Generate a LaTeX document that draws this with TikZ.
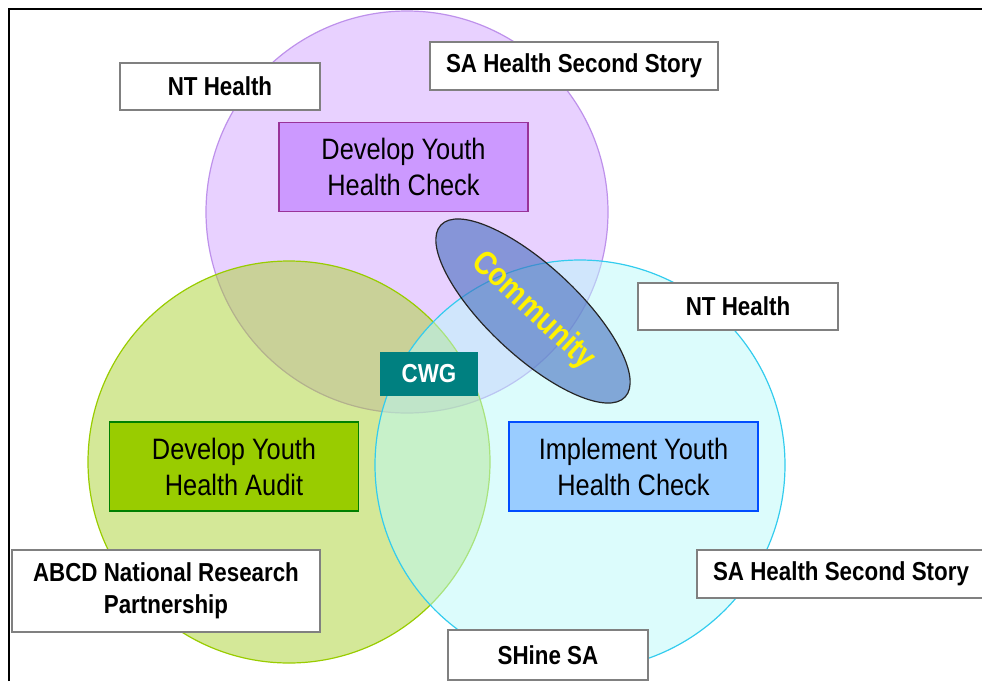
\documentclass[tikz,border=0pt]{standalone}
\usepackage{fontspec}
\setmainfont{Liberation Sans}[FakeStretch=0.86]
\usetikzlibrary{shapes.geometric}

\definecolor{lilac}{RGB}{204,153,255}
\definecolor{lilacedge}{RGB}{190,145,235}
\definecolor{plum}{RGB}{153,51,153}
\definecolor{lime}{RGB}{170,210,50}
\definecolor{limeedge}{RGB}{153,204,0}
\definecolor{aqua}{RGB}{185,250,250}
\definecolor{aquaedge}{RGB}{51,204,238}
\definecolor{sky}{RGB}{153,204,255}
\definecolor{commfill}{RGB}{70,110,190}
\definecolor{cwgteal}{RGB}{0,128,128}

\begin{document}
\begin{tikzpicture}[x=1pt, y=-1pt,
    ring/.style={circle, line width=1.2pt, minimum size=402pt, inner sep=0pt},
    org/.style={rectangle, draw=gray, line width=1.5pt, fill=white, align=center, inner sep=0pt,
      font=\bfseries\fontsize{26}{32}\selectfont},
    task/.style={rectangle, line width=1.5pt, align=center, inner sep=0pt,
      minimum width=249pt, minimum height=89pt, font=\fontsize{29.5}{36}\selectfont}]
  \useasboundingbox (0,0) rectangle (982,681);
  \draw[line width=2pt] (9,681) -- (9,9) -- (982,9);

  % three overlapping circles
  \node[ring, draw=lilacedge, fill=lilac, fill opacity=0.45] (devring) at (407,212) {};
  \node[ring, draw=limeedge, fill=lime, fill opacity=0.5] (auditring) at (289,462) {};
  \node[ring, draw=aquaedge, fill=aqua, fill opacity=0.5, minimum size=410pt] (implring) at (580,465) {};

  \node[ellipse, rotate=-43, draw=black!85, line width=1.2pt, fill=commfill, fill opacity=0.6,
    text opacity=1, minimum width=252pt, minimum height=90pt, text=yellow,
    font=\bfseries\fontsize{33}{36}\selectfont] (comm) at (533,311) {Community};

  \node[task, draw=plum, fill=lilac] (check) at (403.5,167) {Develop Youth\\Health Check};
  \node[task, draw=green!50!black, fill=limeedge] (audit) at (234,466.5) {Develop Youth\\Health Audit};
  \node[task, draw=blue!70!cyan, fill=sky] (impl) at (633.5,466.5) {Implement Youth\\Health Check};

  \node[rectangle, fill=cwgteal, text=white, minimum width=98pt, minimum height=44pt,
    font=\bfseries\fontsize{26}{30}\selectfont] (cwg) at (429,374) {CWG};

  % partner labels
  \node[org, minimum width=200pt, minimum height=47pt] (nt1) at (220,86.5) {NT Health};
  \node[org, minimum width=288pt, minimum height=48pt] (sa1) at (574,66) {SA Health Second Story};
  \node[org, minimum width=200pt, minimum height=47pt] (nt2) at (738,306.5) {NT Health};
  \node[org, minimum width=308pt, minimum height=82pt] (abcd) at (166,591) {ABCD National Research\\Partnership};
  \node[org, minimum width=288pt, minimum height=48pt] (sa2) at (841,574) {SA Health Second Story};
  \node[org, minimum width=200pt, minimum height=50pt] (shine) at (548,655) {SHine SA};
\end{tikzpicture}
\end{document}
